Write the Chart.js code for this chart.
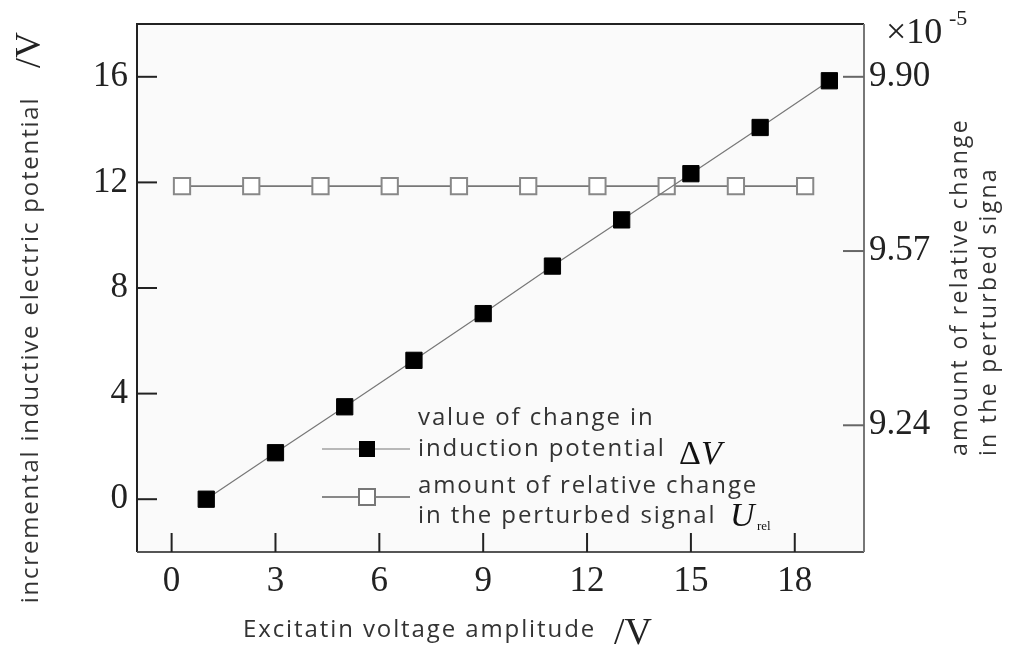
<!DOCTYPE html>
<html>
<head>
<meta charset="utf-8">
<script src="https://cdn.jsdelivr.net/npm/chart.js@4/dist/chart.umd.min.js"></script>
<style>
  html, body { margin: 0; padding: 0; background: #fff; }
</style>
</head>
<body>
<canvas id="chart" width="1013" height="646"></canvas>
<script>
// induction potential change (left axis, V)
let voltX = [1, 3, 5, 7, 9, 11, 13, 15, 17, 19];
let deltaV = [0, 1.76, 3.50, 5.26, 7.03, 8.83, 10.58, 12.33, 14.08, 15.85];
// relative change of perturbed signal (right axis, x1e-5)
let relX = [0.3, 2.3, 4.3, 6.3, 8.3, 10.3, 12.3, 14.3, 16.3, 18.3];
let uRel = [9.693, 9.693, 9.693, 9.693, 9.693, 9.693, 9.693, 9.693, 9.693, 9.693];

let xTicks = [0, 3, 6, 9, 12, 15, 18];
let yTicks = [0, 4, 8, 12, 16];
let y2Ticks = [9.24, 9.57, 9.90];

const SERIF = '"Liberation Serif", "DejaVu Serif", serif';
const SANS = '"Open Sans", "DejaVu Sans", sans-serif';

function toPoints(xs, ys) {
    return xs.map(function (x, i) { return { x: x, y: ys[i] }; });
}

function setTicks(list) {
    return function (scale) {
        scale.ticks = list.map(function (v) { return { value: v }; });
    };
}

function rotatedText(ctx, text, x, y, font, color, align, spacing) {
    ctx.save();
    ctx.translate(x, y);
    ctx.rotate(-Math.PI / 2);
    ctx.font = font;
    ctx.letterSpacing = spacing || '0px';
    ctx.fillStyle = color;
    ctx.textAlign = align || 'center';
    ctx.textBaseline = 'middle';
    ctx.fillText(text, 0, 0);
    ctx.restore();
}

const decor = {
    id: 'decor',
    beforeDatasetsDraw: function (chart) {
        const a = chart.chartArea, ctx = chart.ctx;
        ctx.save();
        ctx.fillStyle = '#fafafa';
        ctx.fillRect(a.left, a.top, a.right - a.left, a.bottom - a.top);
        ctx.restore();
    },
    afterDatasetsDraw: function (chart) {
        const a = chart.chartArea, ctx = chart.ctx;
        const sx = chart.scales.x, sy = chart.scales.y, sy2 = chart.scales.y2;
        ctx.save();
        ctx.lineCap = 'butt';

        // frame
        ctx.lineWidth = 2;
        ctx.strokeStyle = '#222';
        ctx.beginPath();
        ctx.moveTo(a.right, a.top); ctx.lineTo(a.left, a.top); ctx.lineTo(a.left, a.bottom);
        ctx.stroke();
        ctx.strokeStyle = '#555';
        ctx.beginPath();
        ctx.moveTo(a.left, a.bottom); ctx.lineTo(a.right, a.bottom);
        ctx.stroke();
        ctx.strokeStyle = '#777';
        ctx.beginPath();
        ctx.moveTo(a.right, a.top); ctx.lineTo(a.right, a.bottom);
        ctx.stroke();

        // inward tick marks
        ctx.strokeStyle = '#222';
        yTicks.forEach(function (v) {
            const p = sy.getPixelForValue(v);
            ctx.beginPath(); ctx.moveTo(a.left, p); ctx.lineTo(a.left + 20, p); ctx.stroke();
        });
        xTicks.forEach(function (v) {
            const p = sx.getPixelForValue(v);
            ctx.beginPath(); ctx.moveTo(p, a.bottom); ctx.lineTo(p, a.bottom - 19); ctx.stroke();
        });
        ctx.strokeStyle = '#666';
        y2Ticks.forEach(function (v) {
            const p = sy2.getPixelForValue(v);
            ctx.beginPath(); ctx.moveTo(a.right, p); ctx.lineTo(a.right - 21, p); ctx.stroke();
        });

        // axis titles
        rotatedText(ctx, 'incremental inductive electric potential', 31, 350, '24px ' + SANS, '#333', 'center', '1.8px');
        rotatedText(ctx, '/V', 31, 50, '36px ' + SERIF, '#222');
        rotatedText(ctx, 'amount of relative change', 960, 456, '23px ' + SANS, '#333', 'left', '2.3px');
        rotatedText(ctx, 'in the perturbed signa', 989, 456, '23px ' + SANS, '#333', 'left', '2.3px');

        ctx.fillStyle = '#333';
        ctx.textBaseline = 'alphabetic';
        ctx.textAlign = 'left';
        ctx.font = '24px ' + SANS;
        ctx.letterSpacing = '1.9px';
        ctx.fillText('Excitatin voltage amplitude', 243, 637);
        ctx.letterSpacing = '0px';
        ctx.fillStyle = '#222';
        ctx.font = '38px ' + SERIF;
        ctx.fillText('/V', 614, 644);

        // x10^-5 multiplier
        ctx.font = '36px ' + SERIF;
        ctx.fillText('\u00d710', 886, 43);
        ctx.font = '22px ' + SERIF;
        ctx.fillText('-5', 949, 25);

        // legend
        ctx.lineWidth = 1.2;
        ctx.strokeStyle = '#777';
        ctx.beginPath(); ctx.moveTo(322, 449); ctx.lineTo(410, 449); ctx.stroke();
        ctx.fillStyle = '#000';
        ctx.fillRect(359, 441, 16, 16);
        ctx.lineWidth = 2;
        ctx.strokeStyle = '#888';
        ctx.beginPath(); ctx.moveTo(322, 497); ctx.lineTo(410, 497); ctx.stroke();
        ctx.fillStyle = '#fff';
        ctx.fillRect(359, 489, 16, 16);
        ctx.strokeStyle = '#777';
        ctx.strokeRect(359, 489, 16, 16);

        ctx.fillStyle = '#333';
        ctx.font = '24px ' + SANS;
        ctx.letterSpacing = '1.9px';
        ctx.fillText('value of change in', 418, 425);
        ctx.fillText('induction potential', 418, 456);
        ctx.fillText('amount of relative change', 418, 493);
        ctx.fillText('in the perturbed signal', 418, 523);
        ctx.letterSpacing = '0px';
        ctx.fillStyle = '#111';
        ctx.font = '34px ' + SERIF;
        ctx.fillText('\u0394', 679, 464);
        ctx.font = 'italic 34px ' + SERIF;
        ctx.fillText('V', 701, 464);
        ctx.fillText('U', 730, 526);
        ctx.font = '13px ' + SERIF;
        ctx.fillText('rel', 757, 530);
        ctx.restore();
    }
};

new Chart(document.getElementById('chart'), {
    type: 'line',
    data: {
        datasets: [{
            label: 'value of change in induction potential',
            data: toPoints(voltX, deltaV),
            yAxisID: 'y',
            borderColor: '#777',
            borderWidth: 1.2,
            pointStyle: 'rect',
            pointRadius: 11.5,
            pointBackgroundColor: '#000',
            pointBorderColor: '#000',
            pointBorderWidth: 1,
            fill: false,
            order: 1
        }, {
            label: 'amount of relative change in the perturbed signal',
            data: toPoints(relX, uRel),
            yAxisID: 'y2',
            borderColor: '#777',
            borderWidth: 1.6,
            pointStyle: 'rect',
            pointRadius: 11.5,
            pointBackgroundColor: '#fff',
            pointBorderColor: '#888',
            pointBorderWidth: 2,
            fill: false,
            order: 2
        }]
    },
    options: {
        responsive: false,
        animation: false,
        layout: { padding: { top: 24, left: 0, right: 0, bottom: 0 } },
        plugins: {
            legend: { display: false },
            tooltip: { enabled: false }
        },
        scales: {
            x: {
                type: 'linear',
                min: -1,
                max: 20,
                afterBuildTicks: setTicks(xTicks),
                afterFit: function (s) { s.height = 94; s.paddingLeft = 0; s.paddingRight = 0; },
                grid: { display: false, drawTicks: false },
                border: { display: false },
                ticks: { padding: 9, color: '#222', font: { family: SERIF, size: 35 } }
            },
            y: {
                type: 'linear',
                position: 'left',
                min: -2,
                max: 18,
                afterBuildTicks: setTicks(yTicks),
                afterFit: function (s) { s.width = 137; s.paddingTop = 0; s.paddingBottom = 0; },
                grid: { display: false, drawTicks: false },
                border: { display: false },
                ticks: { padding: 9, color: '#222', font: { family: SERIF, size: 35 } }
            },
            y2: {
                type: 'linear',
                position: 'right',
                min: 9.0,
                max: 10.0,
                afterBuildTicks: setTicks(y2Ticks),
                afterFit: function (s) { s.width = 149; s.paddingTop = 0; s.paddingBottom = 0; },
                grid: { display: false, drawTicks: false },
                border: { display: false },
                ticks: {
                    padding: 5, color: '#222', font: { family: SERIF, size: 35 },
                    callback: function (v) { return Number(v).toFixed(2); }
                }
            }
        }
    },
    plugins: [decor]
});
</script>
</body>
</html>
